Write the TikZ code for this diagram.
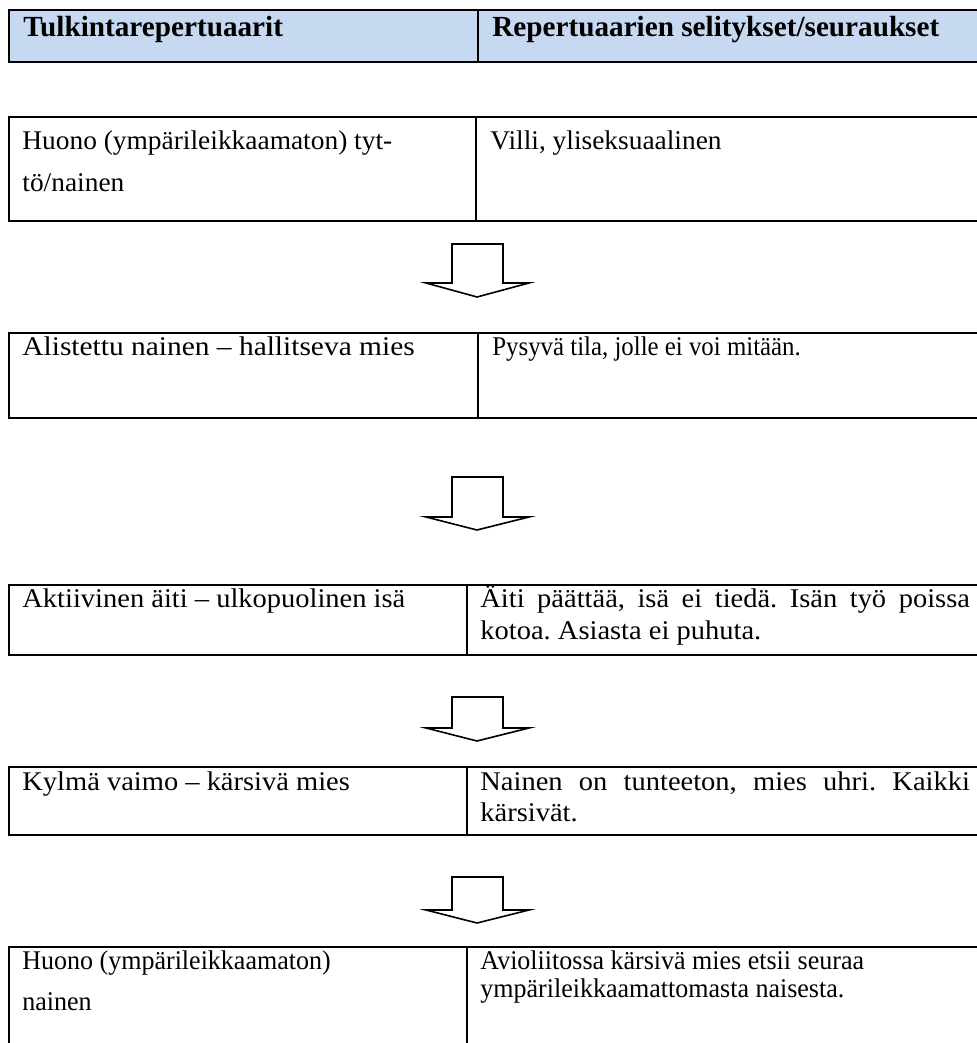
\documentclass[tikz,border=0pt]{standalone}
\usepackage{graphicx}
\usepackage{fontspec}
\setmainfont{Liberation Serif}
\frenchspacing
\definecolor{headblue}{RGB}{198,217,241}
\newcommand{\widen}[2]{\scalebox{#1}[1]{#2}}
\tikzset{
  rowbox/.style={line width=1pt},
  headbox/.style={line width=1.3pt, fill=headblue},
  blockarrow/.style={line width=0.8pt, fill=white, line join=miter},
  celltext/.style={anchor=base west, inner sep=0pt, font=\fontsize{13.5}{15}\selectfont},
  headtext/.style={celltext, font=\fontsize{14.6}{16}\selectfont\bfseries},
}
\begin{document}
\begin{tikzpicture}[x=0.5pt,y=-0.5pt]
  \useasboundingbox (0,0) rectangle (977,1043);
  \clip (0,0) rectangle (977,1043);
  % header row
  \draw[headbox] (9,10) rectangle (990,62);
  \draw[line width=1pt] (478,10) -- (478,62);
  \node[headtext] (headleft) at (23,37) {Tulkintarepertuaarit};
  \node[headtext] (headright) at (492,37) {Repertuaarien selitykset/seuraukset};
  % row 1
  \draw[rowbox] (9,117) rectangle (990,221);
  \draw[rowbox] (476,117) -- (476,221);
  \node[celltext] (oneleft) at (22,150) {\widen{1.015}{Huono (ympärileikkaamaton) tyt-}};
  \node[celltext] (oneleftb) at (22,192) {\widen{1.015}{tö/nainen}};
  \node[celltext] (oneright) at (490,150) {\widen{1.015}{Villi, yliseksuaalinen}};
  \draw[blockarrow] (452,244) -- (503,244) -- (503,283) -- (529,283) -- (477,297) -- (426,283) -- (452,283) -- cycle;
  % row 2
  \draw[rowbox] (9,333) rectangle (990,418);
  \draw[rowbox] (478,333) -- (478,418);
  \node[celltext] (twoleft) at (22,355) {\widen{1.09}{Alistettu nainen – hallitseva mies}};
  \node[celltext] (tworight) at (492,355) {\widen{0.92}{Pysyvä tila, jolle ei voi mitään.}};
  \draw[blockarrow] (452,477) -- (503,477) -- (503,517) -- (529,517) -- (477,530) -- (426,517) -- (452,517) -- cycle;
  % row 3
  \draw[rowbox] (9,585) rectangle (990,655);
  \draw[rowbox] (467,585) -- (467,655);
  \node[celltext] (threeleft) at (22,607) {\widen{1.055}{Aktiivinen äiti – ulkopuolinen isä}};
  \node[celltext] (threeright) at (480,607) {\widen{1.055}{\makebox[232pt][s]{Äiti päättää, isä ei tiedä. Isän työ poissa}}};
  \node[celltext] (threerightb) at (480,639) {\widen{1.055}{kotoa. Asiasta ei puhuta.}};
  \draw[blockarrow] (452,697) -- (503,697) -- (503,728) -- (529,728) -- (477,741) -- (426,728) -- (452,728) -- cycle;
  % row 4
  \draw[rowbox] (9,767) rectangle (990,835);
  \draw[rowbox] (467,767) -- (467,835);
  \node[celltext] (fourleft) at (22,790) {\widen{1.055}{Kylmä vaimo – kärsivä mies}};
  \node[celltext] (fourright) at (480,790) {\widen{1.055}{\makebox[232pt][s]{Nainen on tunteeton, mies uhri. Kaikki}}};
  \node[celltext] (fourrightb) at (480,821) {\widen{1.055}{kärsivät.}};
  \draw[blockarrow] (452,877) -- (503,877) -- (503,910) -- (529,910) -- (477,923) -- (426,910) -- (452,910) -- cycle;
  % row 5
  \draw[rowbox] (9,947) rectangle (990,1060);
  \draw[rowbox] (467,947) -- (467,1060);
  \node[celltext] (fiveleft) at (22,969) {\widen{0.963}{Huono (ympärileikkaamaton)}};
  \node[celltext] (fiveleftb) at (22,1010) {\widen{0.963}{nainen}};
  \node[celltext] (fiveright) at (480,969) {\widen{0.963}{Avioliitossa kärsivä mies etsii seuraa}};
  \node[celltext] (fiverightb) at (480,997) {\widen{0.963}{ympärileikkaamattomasta naisesta.}};
\end{tikzpicture}
\end{document}
